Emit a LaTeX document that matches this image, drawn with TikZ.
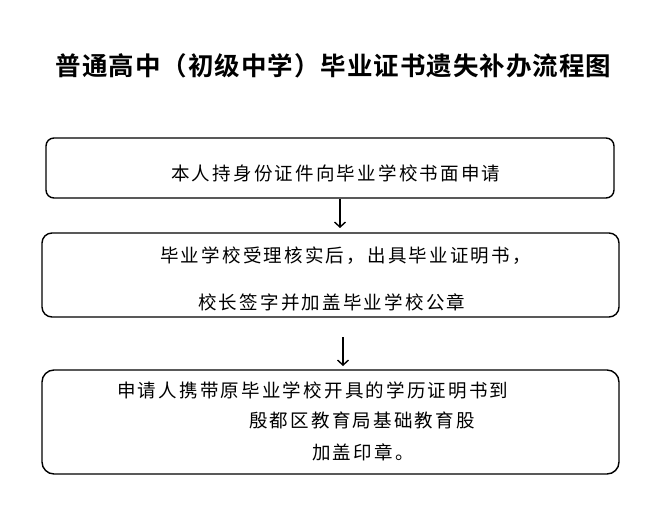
\documentclass[tikz,border=0pt]{standalone}
\usepackage{fontspec}
\usetikzlibrary{arrows.meta}
\newfontfamily\cjk{Noto Sans CJK SC}
\newfontfamily\cjkbold{Noto Sans CJK SC Bold}
\makeatletter
\newcommand\sptxt[2]{\@tfor\@ch:=#2\do{\makebox[#1]{\@ch}}}
\makeatother
\tikzset{
  flowbox/.style={draw=black, line width=1.4pt, fill=white, inner sep=0pt},
  bodyline/.style={anchor=west, inner sep=0pt, font=\cjk\fontsize{18.5}{21}\selectfont},
  titleline/.style={anchor=west, inner sep=0pt, font=\cjkbold\fontsize{25.5}{29}\selectfont},
  arr/.style={line width=1.4pt, -{Straight Barb[length=5pt,width=11pt,line width=1.4pt]}}
}
\begin{document}
\begin{tikzpicture}[x=1pt,y=-1pt]
\useasboundingbox (0,0) rectangle (660,526);
\fill[white] (0,0) rectangle (660,526);
% title
\node[titleline] (title) at (55,66) {\sptxt{26.5pt}{普通高中（初级中学）毕业证书遗失补办流程图}};
% boxes
\node[flowbox, rounded corners=8pt, minimum width=568pt, minimum height=60pt] (b1) at (330,168) {};
\node[flowbox, rounded corners=10pt, minimum width=577pt, minimum height=84pt] (b2) at (330.5,275) {};
\node[flowbox, rounded corners=12pt, minimum width=577pt, minimum height=104pt] (b3) at (330.5,422) {};
% texts
\node[bodyline] (t1) at (170,173.5) {\sptxt{20.7pt}{本人持身份证件向毕业学校书面申请}};
\node[bodyline] (t2a) at (159,256) {\sptxt{20.7pt}{毕业学校受理核实后，出具毕业证明书，}};
\node[bodyline] (t2b) at (197,302) {\sptxt{20.7pt}{校长签字并加盖毕业学校公章}};
\node[bodyline] (t3a) at (116,390) {\sptxt{20.7pt}{申请人携带原毕业学校开具的学历证明书到}};
\node[bodyline] (t3b) at (248,420) {\sptxt{20.7pt}{殷都区教育局基础教育股}};
\node[bodyline] (t3c) at (311,452) {\sptxt{20.7pt}{加盖印章。}};
% arrows
\coordinate (a1e) at (340,228);
\coordinate (a2s) at (343,337);
\coordinate (a2e) at (343,366);
\draw[arr] (b1.south -| a1e) -- (a1e);
\draw[arr] (a2s) -- (a2e);
\end{tikzpicture}
\end{document}
